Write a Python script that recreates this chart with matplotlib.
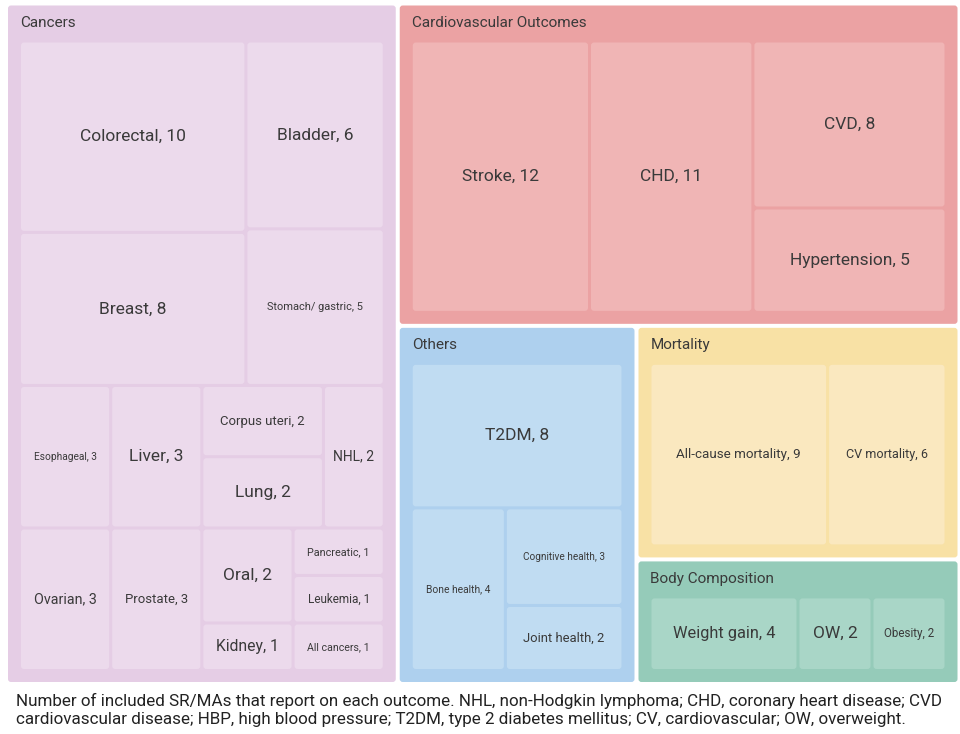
import matplotlib
matplotlib.use("Agg")
import matplotlib.pyplot as plt
from matplotlib.patches import FancyBboxPatch

plt.rcParams['font.family'] = ['Roboto', 'DejaVu Sans']

# data
groups = ["Cancers", "Cardiovascular Outcomes", "Others", "Mortality", "Body Composition"]

cancer_labels = ["Colorectal", "Breast", "Bladder", "Stomach/ gastric", "Esophageal", "Liver",
                 "Ovarian", "Prostate", "Corpus uteri", "Lung", "NHL", "Oral",
                 "Kidney", "Pancreatic", "Leukemia", "All cancers"]
cancer_counts = [10, 8, 6, 5, 3, 3, 3, 3, 2, 2, 2, 2, 1, 1, 1, 1]

cardio_labels = ["Stroke", "CHD", "CVD", "Hypertension"]
cardio_counts = [12, 11, 8, 5]

other_labels = ["T2DM", "Bone health", "Cognitive health", "Joint health"]
other_counts = [8, 4, 3, 2]

mort_labels = ["All-cause mortality", "CV mortality"]
mort_counts = [9, 6]

body_labels = ["Weight gain", "OW", "Obesity"]
body_counts = [4, 2, 2]

caption = ("Number of included SR/MAs that report on each outcome. NHL, non-Hodgkin lymphoma; CHD, coronary heart disease; CVD\n"
           "cardiovascular disease; HBP, high blood pressure; T2DM, type 2 diabetes mellitus; CV, cardiovascular; OW, overweight.")

children = [(cancer_labels, cancer_counts), (cardio_labels, cardio_counts),
            (other_labels, other_counts), (mort_labels, mort_counts),
            (body_labels, body_counts)]

parent_cols = ["#E5CDE5", "#EBA2A3", "#AED0EE", "#F8E1A5", "#95CBB9"]
child_cols = ["#ECDAEC", "#F0B5B5", "#C0DCF2", "#FAE8BF", "#A9D6C7"]
txt_col = "#3a3a3a"


def binary(vals, x0, y0, x1, y1):
    # binary treemap split (like d3.treemapBinary)
    n = len(vals)
    sums = [0]
    for v in vals:
        sums.append(sums[-1] + v)
    out = [None] * n

    def part(i, j, value, x0, y0, x1, y1):
        if i >= j - 1:
            out[i] = (x0, y0, x1, y1)
            return
        off = sums[i]
        target = value / 2 + off
        k = i + 1
        hi = j - 1
        while k < hi:
            mid = (k + hi) // 2
            if sums[mid] < target:
                k = mid + 1
            else:
                hi = mid
        if (target - sums[k - 1]) < (sums[k] - target) and i + 1 < k:
            k -= 1
        vl = sums[k] - off
        vr = value - vl
        if (x1 - x0) > (y1 - y0):
            xk = (x0 * vr + x1 * vl) / value
            part(i, k, vl, x0, y0, xk, y1)
            part(k, j, vr, xk, y0, x1, y1)
        else:
            yk = (y0 * vr + y1 * vl) / value
            part(i, k, vl, x0, y0, x1, yk)
            part(k, j, vr, x0, yk, x1, y1)

    part(0, n, sums[-1], x0, y0, x1, y1)
    return out


def box(ax, r, inset, col):
    x0, y0, x1, y1 = r
    x0 += inset; y0 += inset; x1 -= inset; y1 -= inset
    p = FancyBboxPatch((x0, y0), x1 - x0, y1 - y0,
                       boxstyle="round,pad=0,rounding_size=3",
                       fc=col, ec="none", lw=0)
    ax.add_patch(p)
    return (x0, y0, x1, y1)


fig = plt.figure(figsize=(9.6, 7.34), dpi=100)
ax = fig.add_axes([0, 0, 1, 1])
ax.set_xlim(0, 960)
ax.set_ylim(734, 0)
ax.axis('off')
renderer = fig.canvas.get_renderer()

totals = [sum(c) for _, c in children]
top_rects = binary(totals, 6, 3.5, 959.5, 684)

max_fs = 12.5
for g, (name, rect) in enumerate(zip(groups, top_rects)):
    pr = box(ax, rect, 2, parent_cols[g])
    ax.text(pr[0] + 12, pr[1] + 17.5, name, fontsize=11, color=txt_col,
            ha='left', va='center')
    labs, cnts = children[g]
    order = sorted(range(len(cnts)), key=lambda i: -cnts[i])
    vals = [cnts[i] for i in order]
    crects = binary(vals, pr[0] + 11.5, pr[1] + 35.5, pr[2] - 11.5, pr[3] - 11.5)
    for idx, cr in zip(order, crects):
        r = box(ax, cr, 1.5, child_cols[g])
        cx = (r[0] + r[2]) / 2
        cy = (r[1] + r[3]) / 2
        t = ax.text(cx, cy, "%s, %d" % (labs[idx], cnts[idx]), fontsize=max_fs,
                    color=txt_col, ha='center', va='center')
        w = t.get_window_extent(renderer).width
        limit = 0.71 * (r[2] - r[0])
        if w > limit:
            t.set_fontsize(max_fs * limit / w)

ax.text(16, 710, caption, fontsize=12.25, color="#222222", ha='left', va='center',
        linespacing=1.25)

fig.savefig("out.png", dpi=100)
